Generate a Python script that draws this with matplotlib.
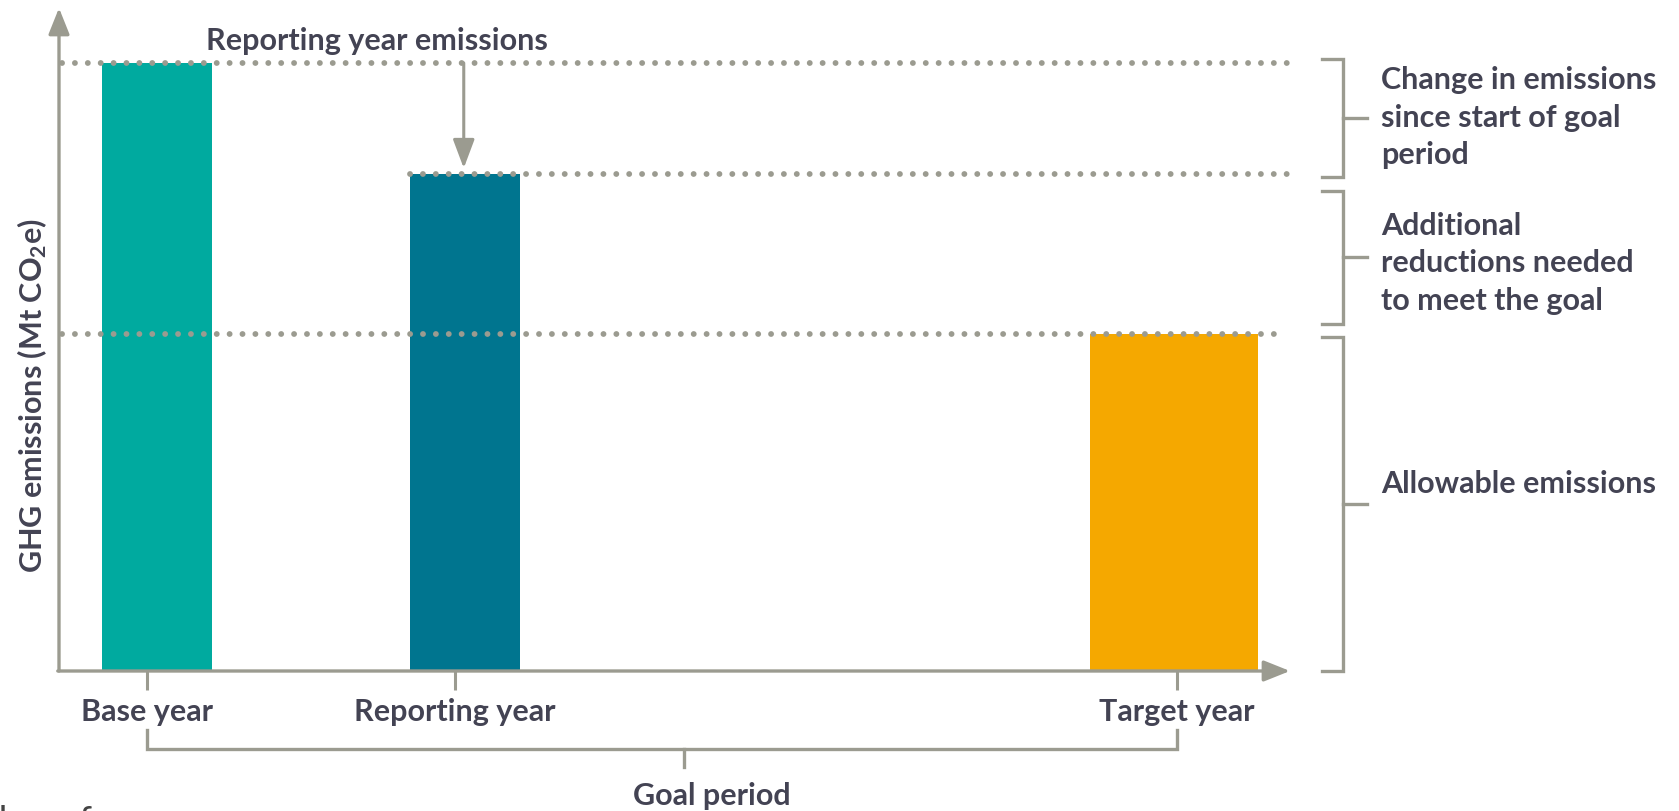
import matplotlib
matplotlib.use('Agg')
import matplotlib.pyplot as plt

# data (schematic emission levels, relative units)
categories = ['Base year', 'Reporting year', 'Target year']
emissions = [100.0, 81.7, 55.4]
bar_colors = ['#00AA9F', '#00758F', '#F5A800']
bracket_labels = ['Change in emissions\nsince start of goal\nperiod',
                  'Additional\nreductions needed\nto meet the goal',
                  'Allowable emissions']
ylabel = 'GHG emissions (Mt CO$_2$e)'
arrow_label = 'Reporting year emissions'
period_label = 'Goal period'

# layout (timeline units, 0-100 across the x axis)
bar_pos = [7.96, 32.98, 90.58]
bar_width = [8.94, 8.94, 13.65]
tick_pos = [7.15, 32.17, 90.8]

gray = '#9B9B90'
txt = '#434353'
font = 'Lato'
fs = 22

plt.rcParams['font.family'] = [font, 'DejaVu Sans']
plt.rcParams['font.weight'] = 'bold'
plt.rcParams['mathtext.fontset'] = 'custom'
plt.rcParams['mathtext.rm'] = 'Lato:bold'
plt.rcParams['mathtext.it'] = 'Lato:bold'
plt.rcParams['mathtext.bf'] = 'Lato:bold'

W, H = 1679, 812
fig = plt.figure(figsize=(W / 100, H / 100), dpi=100)
ax = fig.add_axes([59 / W, (H - 672) / H, (1290 - 59) / W, (672 - 9) / H])
ax.set_xlim(0, 100)
ax.set_ylim(0, 663 / 6.08)
for s in ax.spines.values():
    s.set_visible(False)
ax.set_yticks([])

# bars
ax.bar(bar_pos, emissions, width=bar_width, color=bar_colors, zorder=2)

# axes with arrow heads
arr = dict(arrowstyle='-|>,head_length=0.5,head_width=0.2', color=gray, lw=2.4,
           mutation_scale=32, shrinkA=0, shrinkB=0)
ax.annotate('', xy=(0, 1), xytext=(0, 0), xycoords='axes fraction', arrowprops=arr,
            annotation_clip=False)
ax.annotate('', xy=(1, 0), xytext=(-0.001, 0), xycoords='axes fraction', arrowprops=arr,
            annotation_clip=False)

# x ticks
ax.set_xticks(tick_pos)
ax.set_xticklabels(categories, fontsize=fs, color=txt, fontweight='bold')
ax.tick_params(axis='x', length=14, width=2.2, color=gray, pad=5)

# dotted reference lines
dot = dict(color=gray, lw=4.2, linestyle=(0, (0.01, 2.2)), dash_capstyle='round',
           clip_on=False, zorder=3)
ax.plot([0.25, 100.4], [emissions[0]] * 2, **dot)
ax.plot([bar_pos[1] - bar_width[1] / 2, 100.4], [emissions[1]] * 2, **dot)
ax.plot([0.25, 99.2], [emissions[2]] * 2, **dot)

# reporting year arrow
ax.annotate('', xy=(bar_pos[1] - 0.1, emissions[1] + 1.0), xytext=(bar_pos[1] - 0.1, emissions[0]),
            arrowprops=dict(arrowstyle='-|>,head_length=0.8,head_width=0.3', color=gray, lw=2.2,
                            mutation_scale=22, shrinkA=0, shrinkB=0), annotation_clip=False)
ax.text(25.8, 103.8, arrow_label, ha='center', va='center', fontsize=fs, color=txt)

# brackets on the right
bx, bend, btick = 104.3, 102.6, 106.25
spans = [(emissions[1] - 0.45, emissions[0] + 0.66),
         (emissions[2] + 1.67, emissions[1] - 2.75),
         (0, emissions[2] - 0.47)]
label_y = [91.2, 67.2, 30.9]
for (lo, hi), lab, ly in zip(spans, bracket_labels, label_y):
    ax.plot([bend, bx, bx, bend], [hi, hi, lo, lo], color=gray, lw=2.4, clip_on=False,
            solid_joinstyle='miter')
    mid = (lo + hi) / 2
    ax.plot([bx, btick], [mid, mid], color=gray, lw=2.4, clip_on=False)
    ax.text(107.4, ly, lab, ha='left', va='center', fontsize=fs, color=txt,
            linespacing=1.42)

# goal period bracket under the axis
y_bar, y_end, y_tick = -12.83, -9.7, -15.8
ax.plot([tick_pos[0], tick_pos[0], tick_pos[2], tick_pos[2]], [y_end, y_bar, y_bar, y_end],
        color=gray, lw=2.4, clip_on=False, solid_joinstyle='miter')
ax.plot([50.8, 50.8], [y_bar, y_tick], color=gray, lw=2.4, clip_on=False)
ax.text(53.0, -20.4, period_label, ha='center', va='center', fontsize=fs, color=txt)

# y label
fig.text(32 / W, (H - 396) / H, ylabel, rotation=90, ha='center', va='center',
         fontsize=fs, color=txt)

# cropped caption at the bottom edge of the page
fig.text(-14 / W, 7 / H, 'the reference', ha='left', va='top', fontsize=26,
         fontweight='normal', color='#444444')

fig.savefig('out.png', dpi=100)
